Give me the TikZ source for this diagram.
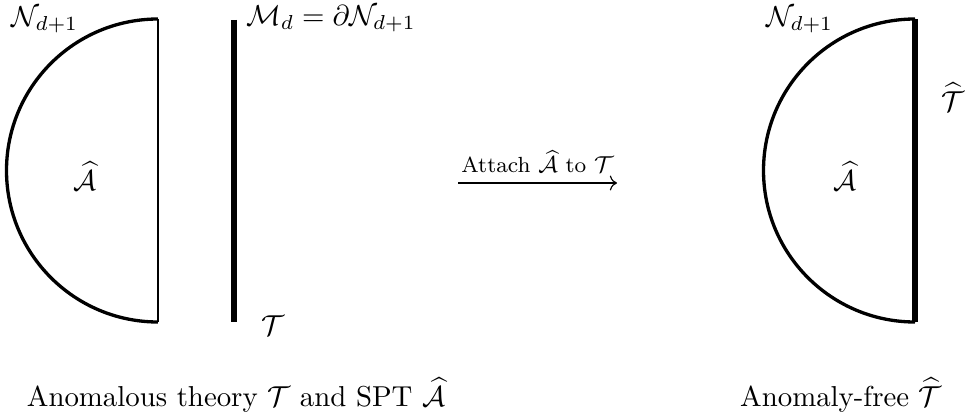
\documentclass[tikz,border=0pt]{standalone}
\usepackage{amsmath}
\usepackage{amssymb}
\usetikzlibrary{arrows.meta}
\newcommand{\Nd}{\mathcal{N}_{d+1}}
\newcommand{\Tc}{\mathcal{T}}
\newcommand{\That}{\widehat{\mathcal{T}}}
\newcommand{\Ahat}{\widehat{\mathcal{A}}}

\begin{document}
\begin{tikzpicture}[x=0.347pt,y=0.347pt]
    \useasboundingbox (0,0) rectangle (968,419);

    % Left diagram
    \coordinate (ltop) at (158,400);
    \coordinate (lbot) at (158,97);
    \coordinate (mtop) at (234,399);
    \coordinate (mbot) at (234,97);
    \node (lN) at (45,399) {$\Nd$};
    \node[anchor=west] (lM) at (236,400) {$\mathcal{M}_d = \partial\Nd$};
    \node (lA) at (85,243) {$\Ahat$};
    \node (lT) at (273,93) {$\Tc$};
    \node (lcap) at (236,24) {Anomalous theory $\Tc$ and SPT $\Ahat$};

    \draw[line width=1.15pt] (ltop) arc[start angle=90, end angle=270, radius=151.5];
    \draw[line width=0.4pt] (ltop) -- (lbot);
    \draw[line width=2.3pt] (mtop) -- (mbot);

    % Right diagram
    \coordinate (rtop) at (915,400);
    \coordinate (rbot) at (915,97);
    \node (rN) at (800,399) {$\Nd$};
    \node (rA) at (845,243) {$\Ahat$};
    \node (rT) at (953,322) {$\That$};
    \node (rcap) at (841,24) {Anomaly-free $\That$};

    \draw[line width=1.15pt] (rtop) arc[start angle=90, end angle=270, radius=151.5];
    \draw[line width=2.3pt] (rtop) -- (rbot);

    % Arrow
    \coordinate (astart) at (458,236);
    \coordinate (aend) at (617,236);
    \path
	(astart) [-{Computer Modern Rightarrow},black, line width=0.4pt] edge node [midway,above,font=\fontsize{7.6pt}{9pt}\selectfont]{Attach $\Ahat$ to $\Tc$} (aend);
\end{tikzpicture}
\end{document}
